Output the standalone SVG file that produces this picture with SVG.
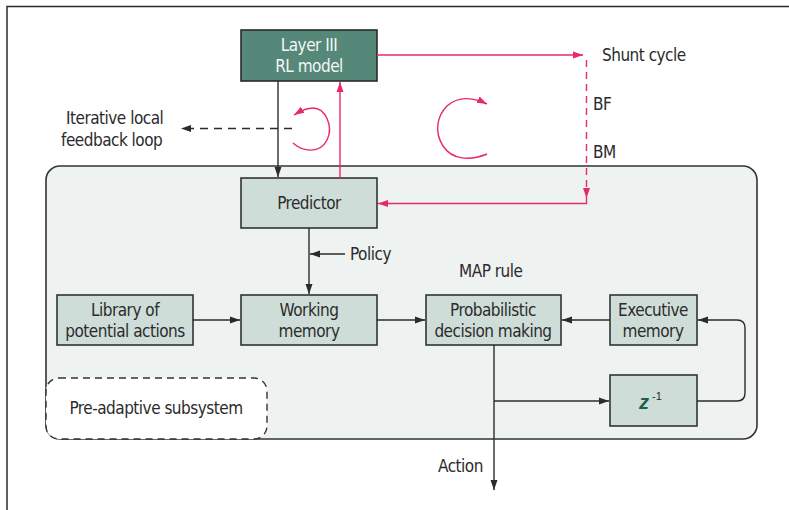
<svg xmlns="http://www.w3.org/2000/svg" width="789" height="510" viewBox="0 0 789 510">
  <style>
    text { font-family: "Liberation Sans Narrow", "DejaVu Sans Condensed", "Liberation Sans", sans-serif; font-size: 17px; letter-spacing: -0.5px; fill: #2b2b2b; }
    .box { fill: #cfddd8; stroke: #333; stroke-width: 1.6; }
    .dark { fill: #56887a; stroke: #2a2a2a; stroke-width: 1.6; }
    .blk { fill: none; stroke: #2b2b2b; stroke-width: 1.4; }
    .pink { fill: none; stroke: #e8286a; stroke-width: 1.4; }
    .mid { text-anchor: middle; }
  </style>
  <defs>
    <marker id="ab" viewBox="0 0 10 10" refX="10" refY="5" markerWidth="10" markerHeight="10" markerUnits="userSpaceOnUse" orient="auto">
      <path d="M0,1.5 L10,5 L0,8.5 Z" fill="#2b2b2b"/>
    </marker>
    <marker id="ap" viewBox="0 0 10 10" refX="10" refY="5" markerWidth="10" markerHeight="10" markerUnits="userSpaceOnUse" orient="auto">
      <path d="M0,1.5 L10,5 L0,8.5 Z" fill="#e8286a"/>
    </marker>
  </defs>

  <!-- outer frame -->
  <path d="M7,510 V6.5 H789" fill="none" stroke="#2b2b2b" stroke-width="1.5"/>

  <!-- adaptive subsystem container -->
  <rect id="container" x="46" y="166" width="711" height="273" rx="14" fill="#eef3f1" stroke="#333" stroke-width="1.6"/>

  <g id="pre-adaptive">
    <rect x="46" y="378" width="221" height="61" rx="13" fill="#fff" stroke="#333" stroke-width="1.4" stroke-dasharray="7,5"/>
    <text x="156" y="414" class="mid">Pre-adaptive subsystem</text>
  </g>

  <g id="layer3">
    <rect class="dark" x="241" y="30" width="136" height="51"/>
    <text x="309" y="51" class="mid" style="fill:#f2f6f4">Layer III</text>
    <text x="309" y="72" class="mid" style="fill:#f2f6f4">RL model</text>
  </g>

  <g id="predictor">
    <rect class="box" x="241" y="178" width="136" height="50"/>
    <text x="309" y="209" class="mid">Predictor</text>
  </g>

  <g id="library">
    <rect class="box" x="57" y="295" width="136" height="50"/>
    <text x="125" y="316" class="mid">Library of</text>
    <text x="125" y="337" class="mid">potential actions</text>
  </g>

  <g id="working">
    <rect class="box" x="241" y="295" width="136" height="50"/>
    <text x="309" y="316" class="mid">Working</text>
    <text x="309" y="337" class="mid">memory</text>
  </g>

  <g id="decision">
    <rect class="box" x="426" y="295" width="135" height="50"/>
    <text x="493" y="316" class="mid">Probabilistic</text>
    <text x="493" y="337" class="mid">decision making</text>
  </g>

  <g id="executive">
    <rect class="box" x="610" y="295" width="87" height="50"/>
    <text x="653" y="316" class="mid">Executive</text>
    <text x="653" y="337" class="mid">memory</text>
  </g>

  <g id="delay">
    <rect class="box" x="610" y="375" width="87" height="51"/>
    <text x="639" y="409" style="font-family:'Liberation Sans',sans-serif;font-weight:bold;font-style:italic;font-size:20px;letter-spacing:0;fill:#1d5e4e">z</text>
    <text x="652" y="400" style="font-family:'Liberation Sans',sans-serif;font-size:11px;letter-spacing:0;fill:#2b2b2b">-1</text>
  </g>

  <g id="connectors">
    <!-- Layer III to predictor and back -->
    <line class="blk" x1="278" y1="81" x2="278" y2="177" marker-end="url(#ab)"/>
    <line class="pink" x1="340" y1="178" x2="340" y2="82" marker-end="url(#ap)"/>
    <!-- shunt cycle -->
    <line class="pink" x1="377" y1="55" x2="583" y2="55" marker-end="url(#ap)"/>
    <line class="pink" x1="586.5" y1="60" x2="586.5" y2="198" stroke-dasharray="7,5" marker-end="url(#ap)"/>
    <polyline class="pink" points="586.5,198 586.5,203.5 378,203.5" marker-end="url(#ap)"/>
    <!-- iterative local feedback -->
    <line class="blk" x1="292" y1="128.5" x2="181" y2="128.5" stroke-dasharray="8,6" marker-end="url(#ab)"/>
    <path class="pink" d="M293,143 C303,152 320,154 327,140 C334,126 325,108 313,108 C305,108 299,112 294,115" marker-end="url(#ap)"/>
    <path class="pink" d="M487,154 C470,161 452,160 443,146 C434,132 437,116 447,106 C459,95 475,98 487,104" marker-end="url(#ap)"/>
    <!-- policy -->
    <line class="blk" x1="309" y1="228" x2="309" y2="294" marker-end="url(#ab)"/>
    <line class="blk" x1="345" y1="254" x2="310" y2="254" marker-end="url(#ab)"/>
    <line class="blk" x1="193" y1="320" x2="240" y2="320" marker-end="url(#ab)"/>
    <line class="blk" x1="377" y1="320" x2="425" y2="320" marker-end="url(#ab)"/>
    <line class="blk" x1="610" y1="320" x2="562" y2="320" marker-end="url(#ab)"/>
    <!-- action and delay loop -->
    <line class="blk" x1="494" y1="345" x2="494" y2="490" marker-end="url(#ab)"/>
    <line class="blk" x1="494" y1="401" x2="609" y2="401" marker-end="url(#ab)"/>
    <path class="blk" d="M697,401 H737 Q745,401 745,393 V328 Q745,320 737,320 H698" marker-end="url(#ab)"/>
  </g>

  <g id="labels">
    <text x="66" y="124">Iterative local</text>
    <text x="61" y="146">feedback loop</text>
    <text x="602" y="61">Shunt cycle</text>
    <text x="593" y="110">BF</text>
    <text x="593" y="158">BM</text>
    <text x="350" y="260">Policy</text>
    <text x="459" y="277">MAP rule</text>
    <text x="438" y="472">Action</text>
  </g>
</svg>
